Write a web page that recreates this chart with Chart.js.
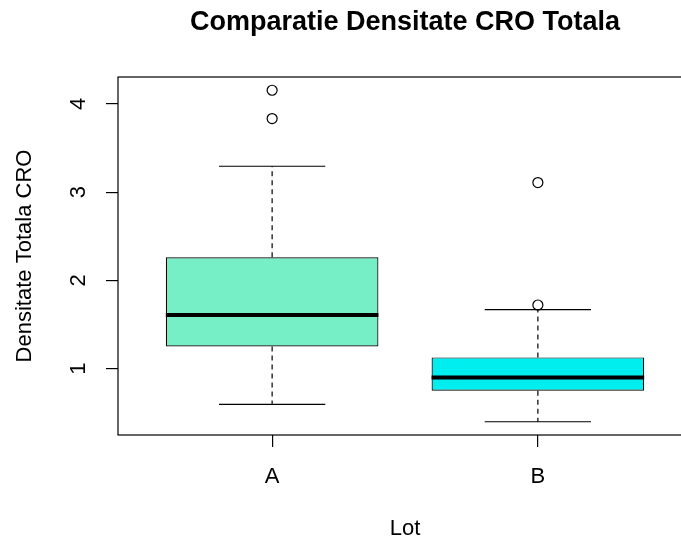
<!DOCTYPE html>
<html>
<head>
<meta charset="utf-8">
<script src="https://cdn.jsdelivr.net/npm/chart.js@4"></script>
<style>
  html, body { margin: 0; padding: 0; overflow: hidden; background: #fff; }
</style>
</head>
<body>
<canvas id="boxChart" width="700" height="540"></canvas>
<script>
// ---- data ----
const categories = ["A", "B"];
const q1 = [1.253, 0.751];
const median = [1.609, 0.901];
const q3 = [2.262, 1.128];
const whiskerLow = [0.595, 0.399];
const whiskerHigh = [3.294, 1.669];
const outliers = [[4.155, 3.834], [3.109, 1.722]];
const yTicks = [1, 2, 3, 4];
const boxColors = ["#76EEC6", "#00EEEE"];

const FONT = "'Liberation Sans', Arial, sans-serif";
const BOX_HALF = 0.4;    // half box width, in x units
const CAP_HALF = 0.2;    // half staple width

// build line segments (null breaks the line)
function segments(fn) {
    const pts = [];
    categories.forEach((c, i) => {
        pts.push(...fn(i + 1, i));
        pts.push({ x: i + 1, y: null });
    });
    return pts;
}

const whiskerPts = segments((x, i) => [
    { x: x, y: q3[i] }, { x: x, y: whiskerHigh[i] }, { x: x, y: null },
    { x: x, y: q1[i] }, { x: x, y: whiskerLow[i] }
]);
const capPts = segments((x, i) => [
    { x: x - CAP_HALF, y: whiskerHigh[i] }, { x: x + CAP_HALF, y: whiskerHigh[i] }, { x: x, y: null },
    { x: x - CAP_HALF, y: whiskerLow[i] }, { x: x + CAP_HALF, y: whiskerLow[i] }
]);
const medianPts = segments((x, i) => [
    { x: x - BOX_HALF, y: median[i] }, { x: x + BOX_HALF, y: median[i] }
]);
const outlierPts = [];
outliers.forEach((list, i) => list.forEach(v => outlierPts.push({ x: i + 1, y: v })));

const lineBase = { type: "line", pointRadius: 0, borderColor: "#000", fill: false, spanGaps: false, tension: 0 };

// frame + main title
const framePlugin = {
    id: "frame",
    afterDraw(chart) {
        const { ctx, chartArea: a } = chart;
        ctx.save();
        ctx.strokeStyle = "#000";
        ctx.lineWidth = 1.2;
        ctx.strokeRect(a.left, a.top, a.right - a.left, a.bottom - a.top);
        ctx.fillStyle = "#000";
        ctx.font = "bold 27px " + FONT;
        ctx.textAlign = "center";
        ctx.textBaseline = "middle";
        ctx.fillText("Comparatie Densitate CRO Totala", (a.left + a.right) / 2, 23);
        ctx.restore();
    }
};

new Chart(document.getElementById("boxChart"), {
    type: "bar",
    data: {
        datasets: [
            {
                type: "bar",
                data: categories.map((c, i) => ({ x: i + 1, y: [q1[i], q3[i]] })),
                backgroundColor: boxColors,
                borderColor: "#000",
                borderWidth: 1.2,
                borderSkipped: false,
                barPercentage: 0.8,
                categoryPercentage: 1,
                order: 3
            },
            Object.assign({}, lineBase, { data: whiskerPts, borderWidth: 1.2, borderDash: [5, 4], order: 2 }),
            Object.assign({}, lineBase, { data: capPts, borderWidth: 1.2, order: 2 }),
            Object.assign({}, lineBase, { data: medianPts, borderWidth: 4, order: 1 }),
            {
                type: "scatter",
                data: outlierPts,
                pointRadius: 5,
                pointBackgroundColor: "rgba(0,0,0,0)",
                pointBorderColor: "#000",
                pointBorderWidth: 1.2,
                order: 0
            }
        ]
    },
    options: {
        responsive: false,
        devicePixelRatio: 1,
        animation: false,
        events: [],
        layout: { padding: { top: 77, right: 8, left: 0, bottom: 0 } },
        plugins: {
            legend: { display: false },
            tooltip: { enabled: false },
            title: { display: false }
        },
        scales: {
            x: {
                type: "linear",
                min: 0.42,
                max: 2.58,
                offset: false,
                afterBuildTicks: s => { s.ticks = categories.map((c, i) => ({ value: i + 1 })); },
                afterFit: s => { s.height = 105; },
                grid: { offset: false, drawOnChartArea: false, tickLength: 12, color: "#000", lineWidth: 1.2 },
                border: { display: false },
                ticks: {
                    padding: 17,
                    color: "#000",
                    font: { family: FONT, size: 22 },
                    maxRotation: 0,
                    callback: v => categories[v - 1]
                },
                title: {
                    display: true,
                    text: "Lot",
                    color: "#000",
                    font: { family: FONT, size: 22, lineHeight: 1 },
                    padding: { top: 0, bottom: 0 }
                }
            },
            y: {
                min: 0.249,
                max: 4.305,
                afterBuildTicks: s => { s.ticks = yTicks.map(v => ({ value: v })); },
                afterFit: s => { s.width = 118; },
                grid: { drawOnChartArea: false, tickLength: 12, color: "#000", lineWidth: 1.2 },
                border: { display: false },
                ticks: {
                    padding: 21,
                    color: "#000",
                    font: { family: FONT, size: 22 },
                    minRotation: 90,
                    maxRotation: 90,
                    crossAlign: "center",
                    callback: v => String(v)
                },
                title: {
                    display: true,
                    text: "Densitate Totala CRO",
                    color: "#000",
                    font: { family: FONT, size: 22, lineHeight: 1 },
                    padding: { top: 14, bottom: 0 }
                }
            }
        }
    },
    plugins: [framePlugin]
});
</script>
</body>
</html>
